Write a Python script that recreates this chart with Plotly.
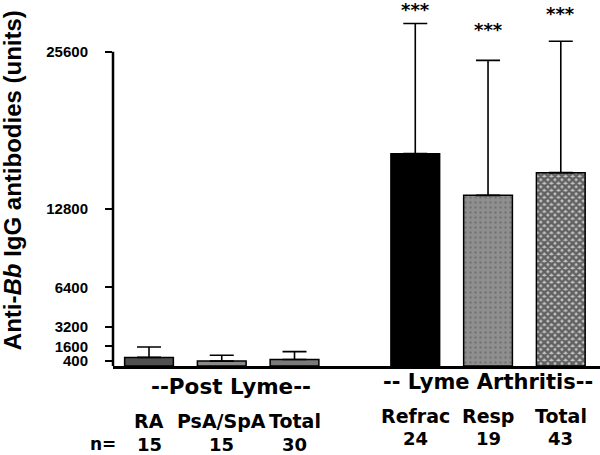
import plotly.graph_objects as go

# ---- data ----
groups = ["--Post Lyme--", "-- Lyme Arthritis--"]
post_categories = ["RA", "PsA/SpA", "Total"]
post_n = [15, 15, 30]
post_means = [700, 400, 530]
post_err = [850, 470, 640]

lyme_categories = ["Refrac", "Resp", "Total"]
lyme_n = [24, 19, 43]
lyme_means = [17300, 13900, 15750]
lyme_err = [10600, 11000, 10700]
lyme_sig = ["***", "***", "***"]

y_ticks = [400, 1600, 3200, 6400, 12800, 25600]

# ---- layout helpers ----
group_gap = 0.66
x_post = [float(i) for i in range(len(post_categories))]
x_lyme = [len(post_categories) + group_gap + i for i in range(len(lyme_categories))]
xs = x_post + x_lyme
means = post_means + lyme_means
errs = post_err + lyme_err

styles = [
    dict(color="#505050"),
    dict(color="#8a8a8a"),
    dict(color="#7a7a7a"),
    dict(color="#000000"),
    dict(color="#8f8f8f", pattern=dict(shape=".", fgcolor="#5a5a5a", size=5, solidity=0.2, fillmode="overlay")),
    dict(color="#c4c4c4", pattern=dict(shape="x", fgcolor="#000000", size=5, solidity=0.75, fillmode="overlay")),
]

fig = go.Figure()
for xv, m, e, st in zip(xs, means, errs, styles):
    fig.add_trace(go.Bar(
        x=[xv], y=[m], width=0.67,
        marker=dict(line=dict(color="black", width=1.5), **st),
        error_y=dict(type="data", symmetric=False, array=[e], arrayminus=[0],
                     color="black", thickness=1.6, width=12),
        showlegend=False, hoverinfo="skip",
    ))

hfont = "DejaVu Sans"
anns = []
# group labels
anns.append(dict(x=sum(x_post) / len(x_post), y=0, xref="x", yref="paper", text="<b>%s</b>" % groups[0],
                 showarrow=False, yanchor="middle", yshift=-20.5, xshift=9,
                 font=dict(family=hfont, size=21.5, color="black")))
anns.append(dict(x=sum(x_lyme) / len(x_lyme), y=0, xref="x", yref="paper", text="<b>%s</b>" % groups[1],
                 showarrow=False, yanchor="middle", yshift=-15.5,
                 font=dict(family=hfont, size=21, color="black")))
# category labels and n
for xv, c, n in zip(x_post, post_categories, post_n):
    anns.append(dict(x=xv, y=0, xref="x", yref="paper", text="<b>%s</b>" % c, showarrow=False,
                     yanchor="middle", yshift=-55, font=dict(family=hfont, size=19, color="black")))
    anns.append(dict(x=xv, y=0, xref="x", yref="paper", text="<b>%d</b>" % n, showarrow=False,
                     yanchor="middle", yshift=-78, font=dict(family=hfont, size=18, color="black")))
for xv, c, n in zip(x_lyme, lyme_categories, lyme_n):
    anns.append(dict(x=xv, y=0, xref="x", yref="paper", text="<b>%s</b>" % c, showarrow=False,
                     yanchor="middle", yshift=-50, font=dict(family=hfont, size=19, color="black")))
    anns.append(dict(x=xv, y=0, xref="x", yref="paper", text="<b>%d</b>" % n, showarrow=False,
                     yanchor="middle", yshift=-72, font=dict(family=hfont, size=18, color="black")))
anns.append(dict(x=0, y=0, xref="paper", yref="paper", text="<b>n=</b>", showarrow=False,
                 xanchor="center", yanchor="middle", xshift=-10, yshift=-78,
                 font=dict(family=hfont, size=17, color="black")))
# significance stars
star_shift = [17, 34, 31]
for xv, m, e, s, sh in zip(x_lyme, lyme_means, lyme_err, lyme_sig, star_shift):
    anns.append(dict(x=xv, y=m + e, xref="x", yref="y", text="<b>%s</b>" % s, showarrow=False,
                     yanchor="middle", yshift=sh - 3, font=dict(family=hfont, size=18, color="black")))
# y title
anns.append(dict(x=0, y=0.5207, xref="paper", yref="paper", xshift=-100.5, textangle=-90,
                 text="<b>Anti-<i>Bb</i> IgG antibodies (units)</b>", showarrow=False,
                 xanchor="center", yanchor="middle",
                 font=dict(family="Liberation Sans, Arial", size=24, color="black")))

fig.update_layout(
    width=600, height=455,
    margin=dict(l=113, r=0, t=10, b=89.3),
    plot_bgcolor="white", paper_bgcolor="white",
    xaxis=dict(range=[-0.4948, 6.199], showgrid=False, zeroline=False, showticklabels=False,
               ticks="", showline=True, linewidth=2.5, linecolor="black"),
    yaxis=dict(range=[0, 29000], showgrid=False, zeroline=False, showline=False,
               tickmode="array", tickvals=y_ticks, ticktext=["<b>%d</b>" % v for v in y_ticks],
               ticks="outside", ticklen=7, tickwidth=2, tickcolor="black",
               ticklabelstandoff=14,
               tickfont=dict(family="Liberation Sans, Arial", size=15, color="black")),
    annotations=anns,
    shapes=[dict(type="line", xref="paper", yref="y", x0=0, x1=0, y0=-150, y1=25600,
                 line=dict(color="black", width=2.5))],
    barmode="overlay",
)
fig.write_html("out.html", config={"displayModeBar": False},
               post_script="document.body.style.margin='0px';document.body.style.overflow='hidden';")
